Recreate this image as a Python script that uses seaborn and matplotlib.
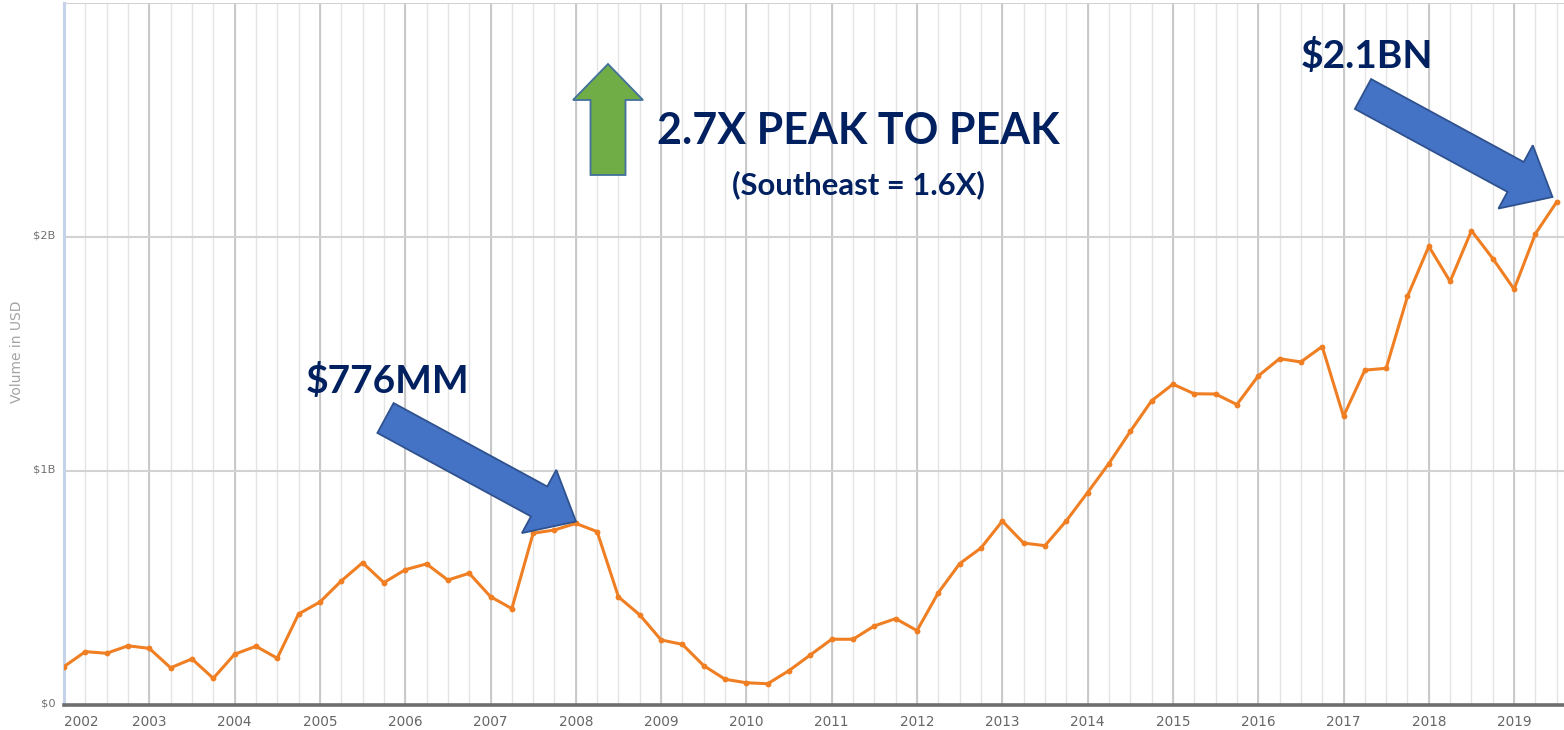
import numpy as np
import pandas as pd
import matplotlib
matplotlib.use("Agg")
import matplotlib.pyplot as plt
import matplotlib.transforms as mtransforms
from matplotlib.patches import Polygon
import seaborn as sns

# ---------------- data ----------------
quarters = pd.period_range("2002Q1", "2019Q3", freq="Q")
volume_bn = [0.164, 0.228, 0.221, 0.253, 0.242, 0.159, 0.197, 0.114,
             0.217, 0.251, 0.200, 0.389, 0.440, 0.530, 0.608, 0.523,
             0.578, 0.603, 0.534, 0.563, 0.463, 0.412, 0.734, 0.748,
             0.776, 0.741, 0.462, 0.385, 0.278, 0.259, 0.168, 0.110,
             0.095, 0.091, 0.147, 0.214, 0.281, 0.281, 0.338, 0.369,
             0.318, 0.480, 0.604, 0.671, 0.786, 0.692, 0.681, 0.787,
             0.908, 1.032, 1.169, 1.300, 1.371, 1.330, 1.329, 1.284,
             1.406, 1.480, 1.466, 1.532, 1.234, 1.431, 1.439, 1.746,
             1.960, 1.810, 2.027, 1.908, 1.777, 2.014, 2.150]
year_ticks = list(range(2002, 2020))
y_ticks = [0, 1, 2]
y_tick_labels = ["$0", "$1B", "$2B"]
y_axis_title = "Volume in USD"
peak_label = "$776MM"
recent_label = "$2.1BN"
headline = "2.7X PEAK TO PEAK"
subline = "(Southeast = 1.6X)"

df = pd.DataFrame({
    "t": [p.year + (p.quarter - 1) / 4 for p in quarters],
    "volume": volume_bn,
})

# ---------------- style ----------------
sns.set_style("white")
plt.rcParams["font.family"] = ["DejaVu Sans"]

W, H = 1564, 730
fig = plt.figure(figsize=(W / 100, H / 100), dpi=100)
ax = fig.add_axes([64 / W, 25 / H, 1500 / W, 702 / H])

# grid: quarter minor lines, year major lines
for t in df["t"]:
    ax.axvline(t, color="#e4e4e4", lw=1.0, zorder=0)
for y in year_ticks:
    ax.axvline(y, color="#c6c6c6", lw=1.3, zorder=0)
for v in [1, 2, 3]:
    ax.axhline(v, color="#d2d2d2", lw=1.5, zorder=0)

sns.lineplot(data=df, x="t", y="volume", ax=ax, color="#ef7f22",
             lw=2.2, marker="o", markersize=4.2, markeredgewidth=0,
             zorder=3)

ax.set_xlim(2002, 2002 + 1500 / 85.3)
ax.set_ylim(0, 3.0)

ax.set_xticks(year_ticks)
ax.set_xticklabels([str(y) for y in year_ticks], fontsize=9.8, color="#666666")
ax.get_xticklabels()[0].set_horizontalalignment("left")
ax.tick_params(axis="x", length=5, width=1, color="#c5d3ea", pad=2)

ax.set_yticks(y_ticks)
ax.set_yticklabels(y_tick_labels, fontsize=8.2, color="#707070")
ax.tick_params(axis="y", length=0, pad=6)
off = mtransforms.ScaledTranslation(0, 3 / 100, fig.dpi_scale_trans)
for lab in ax.get_yticklabels():
    lab.set_transform(lab.get_transform() + off)

ax.set_xlabel("")
ax.set_ylabel("")
for s in ["top", "right"]:
    ax.spines[s].set_visible(False)
ax.spines["bottom"].set_color("#6e6e6e")
ax.spines["bottom"].set_linewidth(2.6)
ax.spines["left"].set_color("#c5d3ea")
ax.spines["left"].set_linewidth(2.2)
ax.spines["bottom"].set_zorder(4)

fig.text(17 / W, 1 - 352 / H, y_axis_title, rotation=90, ha="center",
         va="center", fontsize=10, color="#a3a3a3",
         family=["Liberation Sans Narrow", "DejaVu Sans"])

# ---------------- overlay (pixel coordinates) ----------------
ov = fig.add_axes([0, 0, 1, 1], facecolor="none")
ov.set_xlim(0, W)
ov.set_ylim(H, 0)
ov.axis("off")


def block_arrow(tail, tip, shaft_w, head_w, head_len):
    tail = np.array(tail, float)
    tip = np.array(tip, float)
    d = tip - tail
    L = np.hypot(*d)
    u = d / L
    n = np.array([-u[1], u[0]])
    base = tip - u * head_len
    pts = [tail + n * shaft_w / 2, base + n * shaft_w / 2, base + n * head_w / 2,
           tip, base - n * head_w / 2, base - n * shaft_w / 2, tail - n * shaft_w / 2]
    return np.array(pts)


blue_fill, blue_edge = "#4472c4", "#2f528f"
for tail, tip in [((385.5, 418), (576, 521.5)), ((1363, 94), (1552.5, 197))]:
    ov.add_patch(Polygon(block_arrow(tail, tip, 34, 72, 42), closed=True,
                         facecolor=blue_fill, edgecolor=blue_edge, lw=1.3,
                         zorder=5))

green = np.array([(608, 64), (643, 100), (625.5, 100), (625.5, 175),
                  (590.5, 175), (590.5, 100), (573, 100)])
ov.add_patch(Polygon(green, closed=True, facecolor="#70ad47",
                     edgecolor="#41719c", lw=1.3, zorder=5))

navy = "#002060"
tf = ["Lato", "DejaVu Sans"]
ov.text(387, 381, peak_label, ha="center", va="center", fontsize=28,
        fontweight="bold", color=navy, family=tf, zorder=6)
ov.text(1367, 56, recent_label, ha="center", va="center", fontsize=28,
        fontweight="bold", color=navy, family=tf, zorder=6)
ov.text(858, 131, headline, ha="center", va="center", fontsize=31,
        fontweight="bold", color=navy, family=tf, zorder=6)
ov.text(858, 185, subline, ha="center", va="center", fontsize=22.3,
        fontweight="bold", color=navy, family=tf, zorder=6)

fig.savefig("out.png", dpi=100, facecolor="white")
